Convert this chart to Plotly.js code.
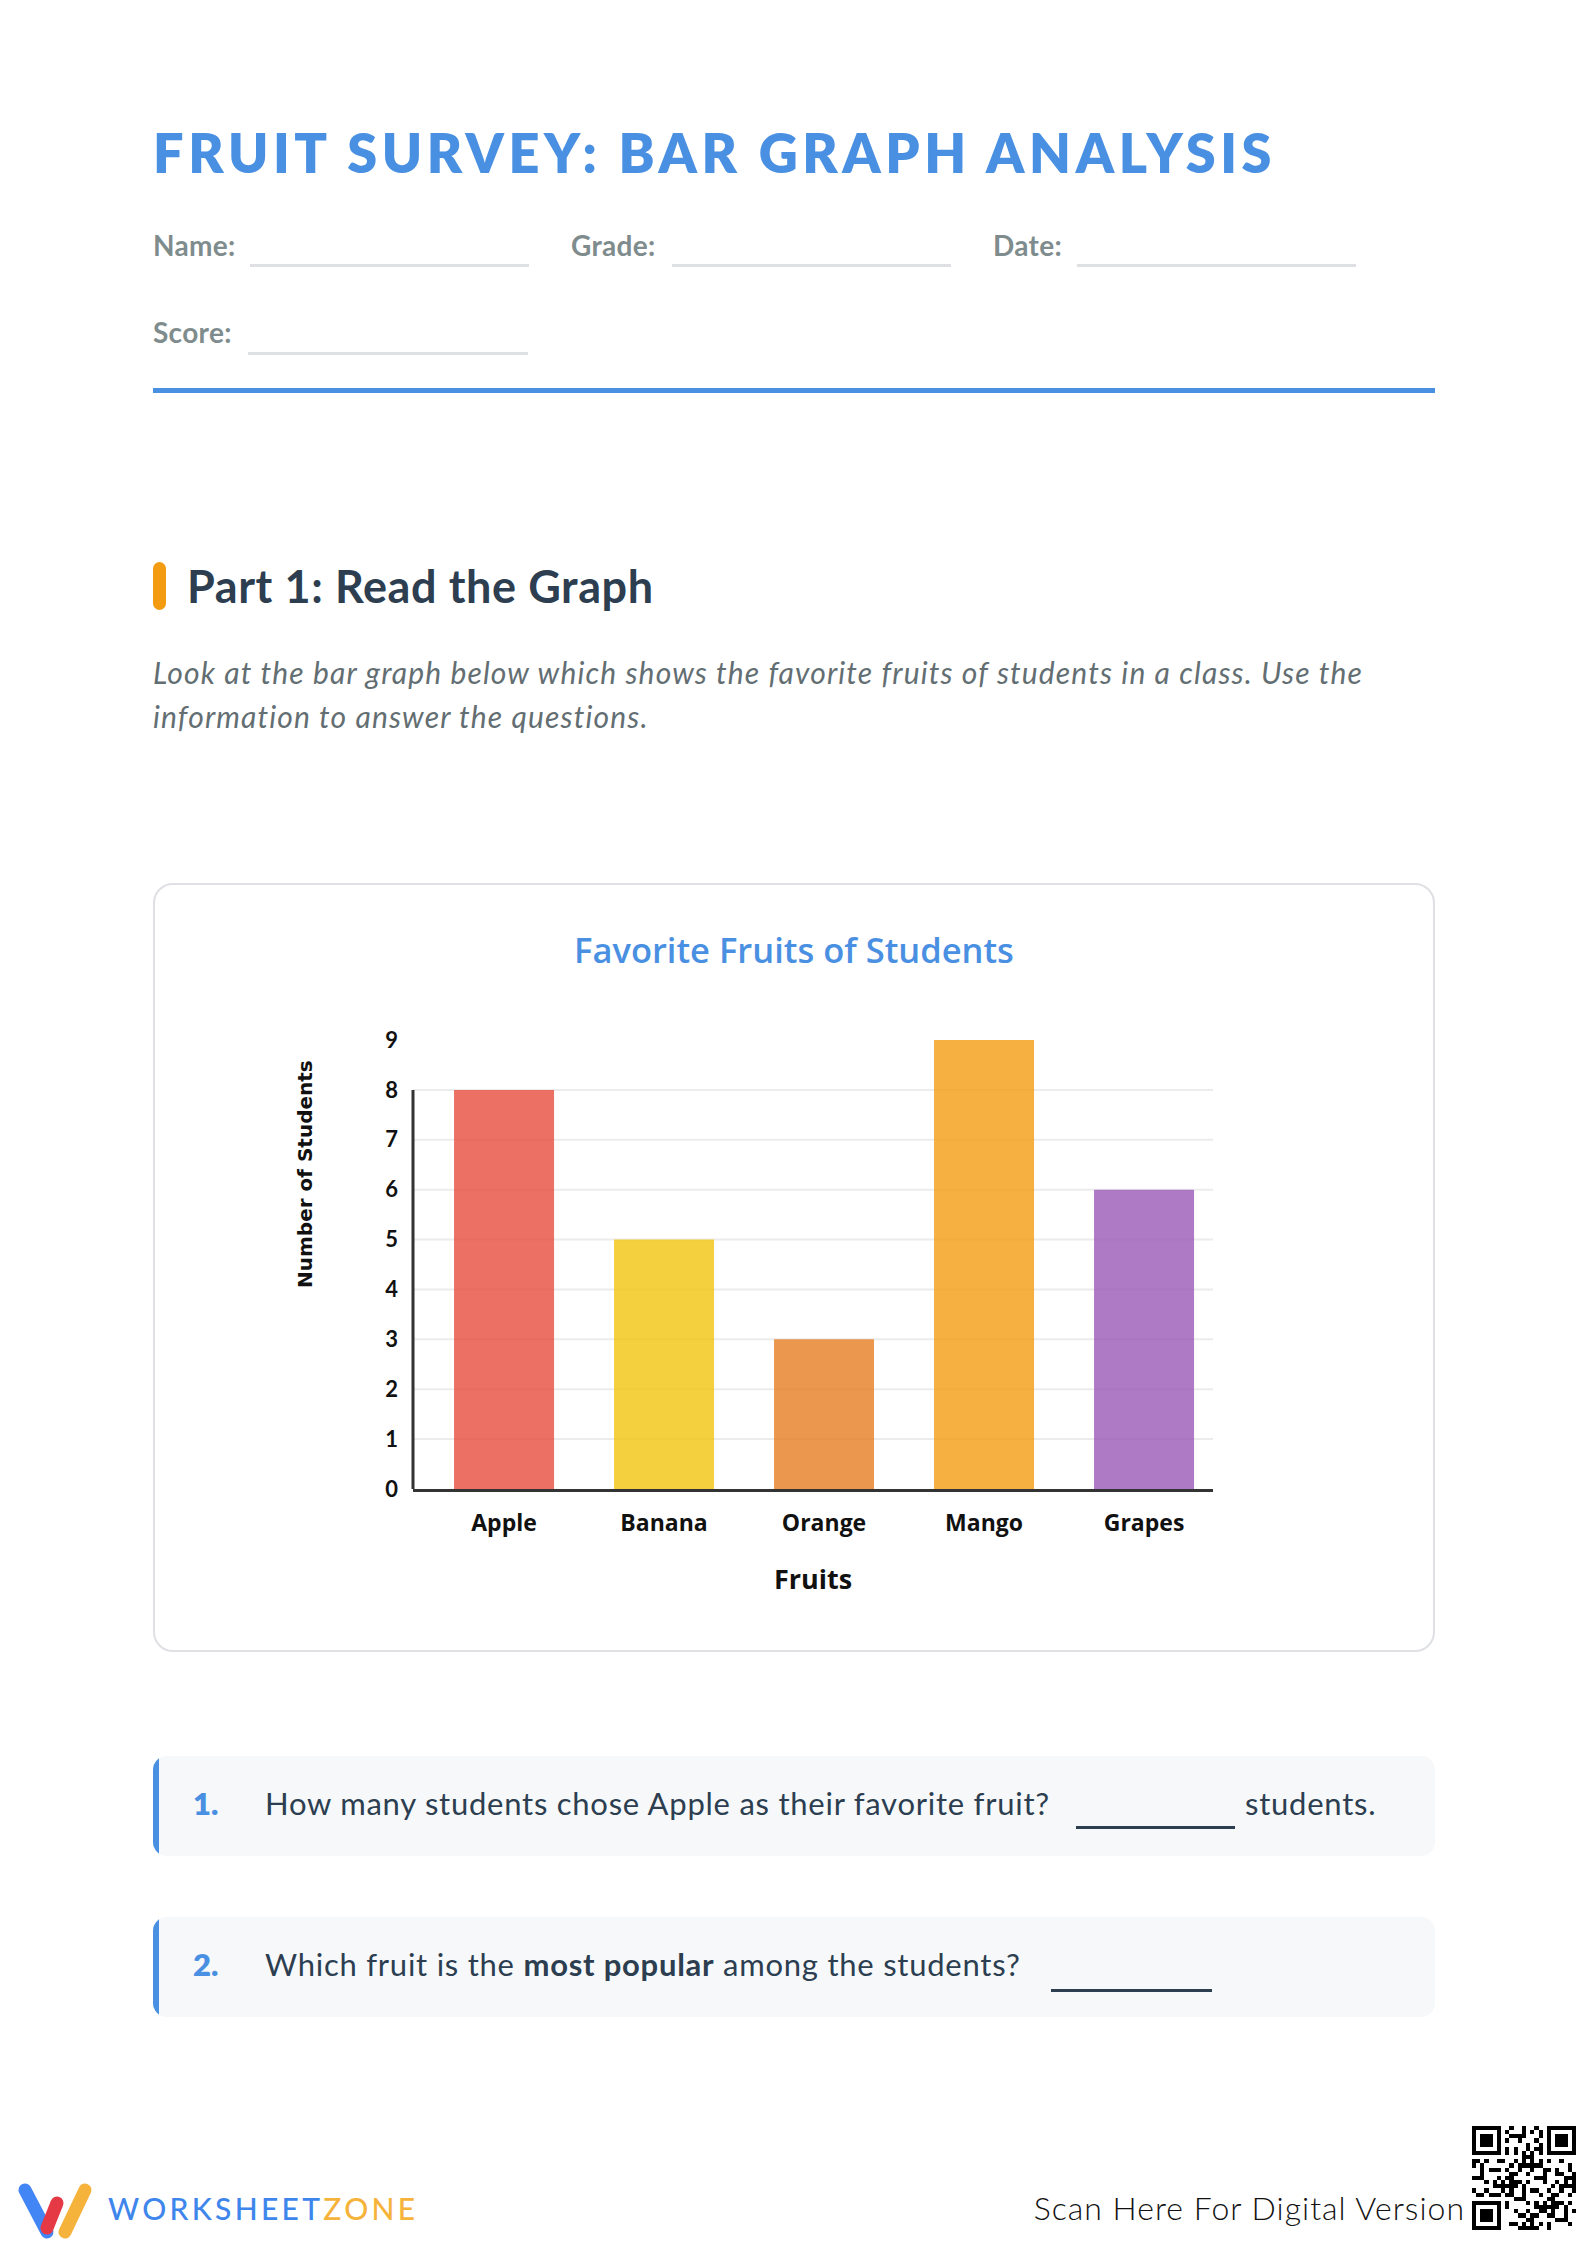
<!DOCTYPE html>
<html>
<head>
<meta charset="utf-8">
<script src="https://cdn.plot.ly/plotly-3.0.1.min.js"></script>
<style>
html,body{margin:0;padding:0;background:#fff;}
#page{position:relative;width:1588px;height:2244px;overflow:hidden;font-family:Lato,'Open Sans',sans-serif;background:#fff;}
.t{position:absolute;white-space:nowrap;line-height:1;transform:translateY(-50%);}
.lbl{font-size:28px;font-weight:700;color:#7f8c8d;letter-spacing:0.3px;}
.ln{position:absolute;height:3px;background:#dfe0e4;}
.qbox{position:absolute;left:153px;width:1282px;height:100px;background:#f6f8fa;border-radius:14px;overflow:hidden;}
.qbar{position:absolute;left:0;top:0;width:6px;height:100%;background:#4a90e2;}
.qnum{font-size:31px;font-weight:800;color:#4a90e2;}
.qtxt{font-size:31px;color:#2c3e50;letter-spacing:0.75px;}
.blank{position:absolute;height:3px;background:#2c3e50;}
</style>
</head>
<body>
<div id="page">
  <div class="t" style="left:153px;top:153px;font-size:54px;font-weight:800;color:#4a90e2;letter-spacing:4.6px;">FRUIT SURVEY: BAR GRAPH ANALYSIS</div>

  <div class="t lbl" style="left:153px;top:245px;">Name:</div>
  <div class="ln" style="left:250px;top:264px;width:279px;"></div>
  <div class="t lbl" style="left:571px;top:245px;">Grade:</div>
  <div class="ln" style="left:672px;top:264px;width:279px;"></div>
  <div class="t lbl" style="left:993px;top:245px;">Date:</div>
  <div class="ln" style="left:1077px;top:264px;width:279px;"></div>
  <div class="t lbl" style="left:153px;top:332px;">Score:</div>
  <div class="ln" style="left:248px;top:352px;width:280px;"></div>
  <div style="position:absolute;left:153px;top:388px;width:1282px;height:5px;background:#4a90e2;"></div>

  <div style="position:absolute;left:153px;top:562px;width:13px;height:48px;border-radius:7px;background:#f39c12;"></div>
  <div class="t" style="left:187px;top:586px;font-size:45px;font-weight:700;color:#2c3e50;letter-spacing:0.6px;">Part 1: Read the Graph</div>
  <div class="t" style="left:153px;top:672px;font-size:30px;font-style:italic;color:#636e72;letter-spacing:1.15px;">Look at the bar graph below which shows the favorite fruits of students in a class. Use the</div>
  <div class="t" style="left:153px;top:716px;font-size:30px;font-style:italic;color:#636e72;letter-spacing:1.15px;">information to answer the questions.</div>

  <div style="position:absolute;left:153px;top:883px;width:1278px;height:765px;border:2px solid #dfe0e4;border-radius:20px;"></div>
  <div id="chart" style="position:absolute;left:153px;top:883px;width:1282px;height:769px;"></div>

  <div class="qbox" style="top:1756px;"><div class="qbar"></div></div>
  <div class="t qnum" style="left:193px;top:1803px;">1.</div>
  <div class="t qtxt" style="left:265px;top:1803px;">How many students chose Apple as their favorite fruit?</div>
  <div class="blank" style="left:1076px;top:1826px;width:159px;"></div>
  <div class="t qtxt" style="left:1245px;top:1803px;">students.</div>

  <div class="qbox" style="top:1917px;"><div class="qbar"></div></div>
  <div class="t qnum" style="left:193px;top:1964px;">2.</div>
  <div class="t qtxt" style="left:265px;top:1964px;">Which fruit is the <b>most popular</b> among the students?</div>
  <div class="blank" style="left:1051px;top:1989px;width:161px;"></div>

  <svg style="position:absolute;left:0;top:2170px;" width="100" height="74" viewBox="0 0 100 74">
    <line x1="25" y1="20" x2="47" y2="62" stroke="#4285f4" stroke-width="13" stroke-linecap="round"/>
    <line x1="47" y1="58" x2="57" y2="33" stroke="#e63946" stroke-width="13" stroke-linecap="round"/>
    <line x1="65" y1="62" x2="85" y2="20" stroke="#f6b33c" stroke-width="13" stroke-linecap="round"/>
  </svg>
  <div class="t" style="left:108px;top:2208px;font-size:30px;font-weight:500;letter-spacing:3.3px;color:#3f86ec;">WORKSHEET<span style="color:#f6b33c;">ZONE</span></div>
  <div class="t" style="right:123px;top:2208px;font-size:32px;font-weight:300;color:#111;letter-spacing:1px;">Scan Here For Digital Version</div>
  <svg id="qr" style="position:absolute;left:1472px;top:2126px;" width="104" height="104" viewBox="0 0 25 25" shape-rendering="crispEdges"></svg>
</div>

<script>
// ---- chart data ----
const fruits = ['Apple', 'Banana', 'Orange', 'Mango', 'Grapes'];
const students = [8, 5, 3, 9, 6];
const barColors = ['rgba(231,76,60,0.8)', 'rgba(241,196,15,0.8)', 'rgba(230,126,34,0.8)', 'rgba(243,156,18,0.8)', 'rgba(155,89,182,0.8)'];
const yTickValues = [0, 1, 2, 3, 4, 5, 6, 7, 8, 9];
const gridValues = [1, 2, 3, 4, 5, 6, 7, 8];

const shapes = gridValues.map(v => ({
  type: 'line', xref: 'paper', x0: 0, x1: 1, yref: 'y', y0: v, y1: v,
  layer: 'below', line: {color: '#ececec', width: 2}
}));
shapes.push({
  type: 'line', xref: 'paper', x0: 0, x1: 0, yref: 'y', y0: 0, y1: Math.max(...gridValues),
  layer: 'above', line: {color: '#333333', width: 3}
});

const data = [{
  type: 'bar', x: fruits, y: students,
  marker: {color: barColors, line: {width: 0}},
  hoverinfo: 'none'
}];

const layout = {
  width: 1282, height: 769,
  margin: {l: 260, r: 222, t: 157, b: 163},
  paper_bgcolor: 'rgba(0,0,0,0)', plot_bgcolor: 'rgba(0,0,0,0)',
  font: {family: 'Lato, "Open Sans", sans-serif', color: '#111'},
  title: {
    text: 'Favorite Fruits of Students',
    font: {size: 34.5, color: '#4a90e2', weight: 600, family: '"Open Sans", sans-serif'},
    x: 0.5, xanchor: 'center', xref: 'container', y: 0.912, yanchor: 'middle', yref: 'container'
  },
  bargap: 0.375,
  showlegend: false,
  xaxis: {
    type: 'category', range: [-0.569, 4.431], showgrid: false, zeroline: false,
    showline: true, linecolor: '#333333', linewidth: 3,
    ticks: '', ticklabelstandoff: 11,
    tickfont: {size: 23, weight: 700, color: '#111', family: '"Open Sans", sans-serif'},
    title: {text: 'Fruits', font: {size: 27, weight: 700, color: '#111', family: '"Open Sans", sans-serif'}, standoff: 34}
  },
  yaxis: {
    range: [0, 9], tickvals: yTickValues, showgrid: false, zeroline: false,
    showline: false, ticks: '', ticklabelstandoff: 14,
    tickfont: {size: 22, weight: 700, color: '#111'}
  },
  shapes: shapes,
  annotations: [{
    text: 'Number of Students', textangle: -90, showarrow: false,
    xref: 'paper', yref: 'paper', x: -0.135, y: 0.7016, xanchor: 'center', yanchor: 'middle',
    font: {family: '"DejaVu Sans", sans-serif', size: 20, weight: 700, color: '#111'}
  }]
};

Plotly.newPlot('chart', data, layout, {staticPlot: true, displayModeBar: false});

// ---- decorative QR code pattern ----
(function () {
  const svg = document.getElementById('qr');
  const N = 25;
  let html = '<rect x="0" y="0" width="25" height="25" fill="#fff"/>';
  const inFinder = (r, c) => (r < 8 && c < 8) || (r < 8 && c >= N - 8) || (r >= N - 8 && c < 8);
  function finder(x, y) {
    html += `<rect x="${x}" y="${y}" width="7" height="7" fill="#000"/>`;
    html += `<rect x="${x + 1}" y="${y + 1}" width="5" height="5" fill="#fff"/>`;
    html += `<rect x="${x + 2}" y="${y + 2}" width="3" height="3" fill="#000"/>`;
  }
  finder(0, 0); finder(N - 7, 0); finder(0, N - 7);
  for (let r = 0; r < N; r++) {
    for (let c = 0; c < N; c++) {
      if (inFinder(r, c)) continue;
      let on;
      if (r === 6) on = c % 2 === 0;
      else if (c === 6) on = r % 2 === 0;
      else on = ((r * 7 + c * 13 + ((r * c) % 5)) % 3) === 0 || ((r + c * 3) % 7 === 1);
      if (on) html += `<rect x="${c}" y="${r}" width="1" height="1" fill="#000"/>`;
    }
  }
  svg.innerHTML = html;
})();
</script>
</body>
</html>
